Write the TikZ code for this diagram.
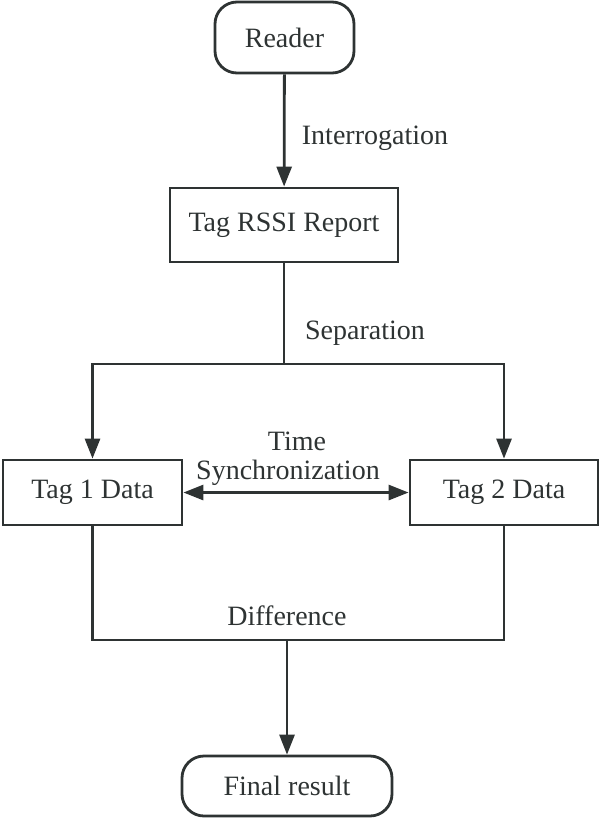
\documentclass[tikz,border=0pt]{standalone}
\usepackage{fontspec}
\setmainfont{Liberation Serif}
\usetikzlibrary{arrows.meta}
\definecolor{ink}{HTML}{2E3333}
\tikzset{
	box/.style={draw=ink, line width=1.4pt, text=ink, inner sep=0pt, minimum height=32.5pt},
	term/.style={box, rounded corners=11pt},
	lbl/.style={text=ink, inner sep=0pt},
	tip/.style={Triangle[length=10pt,width=7.5pt]},
	flow/.style={draw=ink, line width=1.4pt, -{Triangle[length=10pt,width=7.5pt]}},
	link/.style={draw=ink, line width=1.4pt}
}
\begin{document}
\begin{tikzpicture}[x=0.5pt, y=-0.5pt, font=\fontsize{14pt}{16pt}\selectfont]
			\useasboundingbox (0,0) rectangle (600,820);
			\node (reader) [term, minimum width=69.5pt, minimum height=35.5pt] at (284.5,37.5) {Reader};
			\node (report) [box, minimum width=114pt, minimum height=37pt] at (284,225) {Tag RSSI Report};
			\node (tagone) [box, minimum width=89.5pt] at (92.5,492.5) {Tag 1 Data};
			\node (tagtwo) [box, minimum width=94pt] at (504,492.5) {Tag 2 Data};
			\node (result) [term, minimum width=105pt, minimum height=30pt] at (287,786) {Final result};
			\coordinate (split) at (284,364);
			\coordinate (merge) at (287,640);
			% connectors
			\draw [flow] (reader) -- (report);
			\draw [link] (report) -- (split);
			\draw [flow] (split) -| (tagone);
			\draw [flow] (split) -| (tagtwo);
			\draw [flow, {Triangle[length=10pt,width=7.5pt]}-{Triangle[length=10pt,width=7.5pt]}] (tagone) -- (tagtwo);
			\draw [link] (tagone) |- (merge) -| (tagtwo);
			\draw [flow] (merge) -- (result);
			% labels
			\node (interrogation) [lbl] at (375,138) {Interrogation};
			\node (separation) [lbl] at (365,333) {Separation};
			\node (time) [lbl] at (297,441) {Time};
			\node (sync) [lbl] at (288,473) {Synchronization};
			\node (difference) [lbl] at (287,616) {Difference};
		\end{tikzpicture}
\end{document}
